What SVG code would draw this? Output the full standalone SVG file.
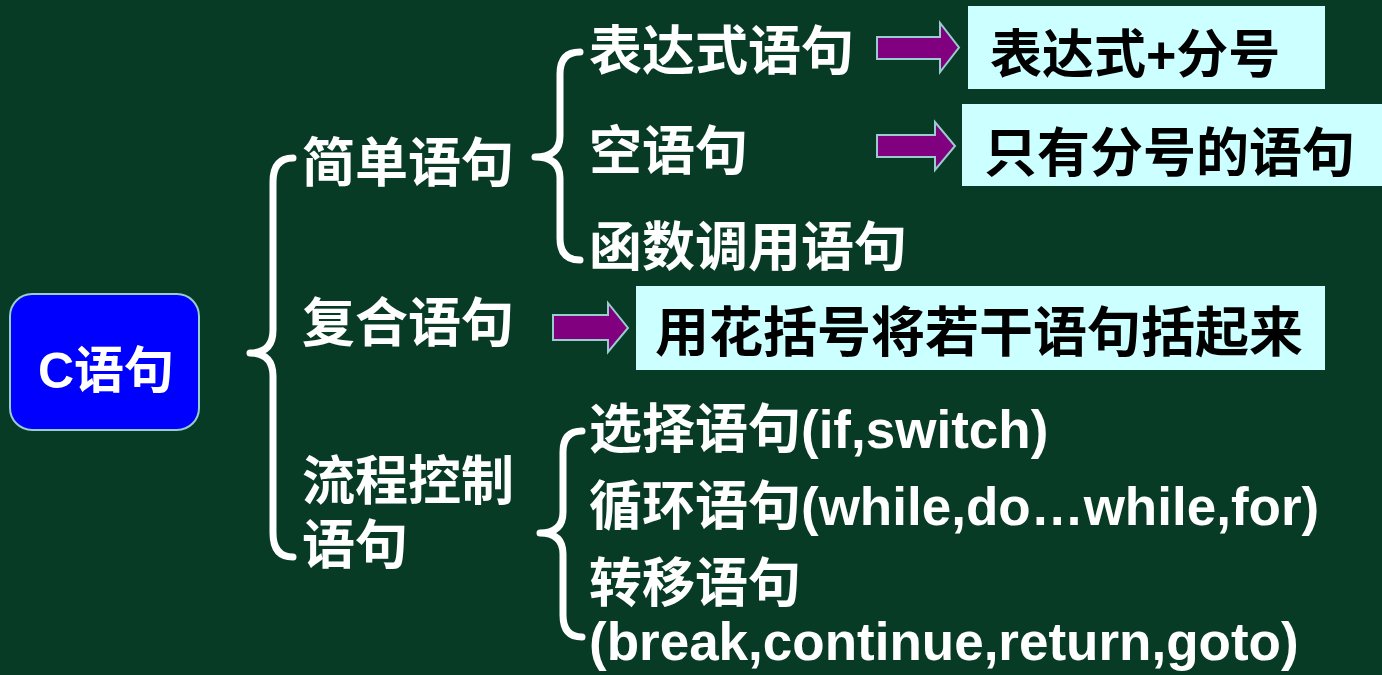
<svg xmlns="http://www.w3.org/2000/svg" width="1382" height="675" viewBox="0 0 1382 675">
<style>
.t{font-family:"Liberation Sans","Noto Sans CJK SC",sans-serif;font-weight:bold;font-size:53px;fill:#ffffff}
.b{font-family:"Liberation Sans","Noto Sans CJK SC",sans-serif;font-weight:bold;font-size:52px;fill:#000000}
.br{fill:none;stroke:#ffffff;stroke-width:7;stroke-linecap:round;stroke-linejoin:round}
.ar{fill:#800080;stroke:#99cccc;stroke-width:2}
.bx{fill:#ccffff}
</style>
<rect x="0" y="0" width="1382" height="675" fill="#073b25"/>
<g id="root">
<rect x="10" y="294" width="189" height="136" rx="22" fill="#0000ff" stroke="#99cccc" stroke-width="2"/>
<text x="106" y="388" text-anchor="middle" style="font-family:'Liberation Sans','Noto Sans CJK SC',sans-serif;font-weight:bold;font-size:50px;fill:#fff">C语句</text>
</g>
<g id="connectors">
<path class="br" d="M293,158 Q273,158 273,182 L273,330 Q273,353 250,353 Q273,353 273,376 L273,533 Q273,557 293,557"/>
<path class="br" d="M580,52 Q560,52 560,74 L560,136 Q560,157 535,157 Q560,157 560,178 L560,238 Q560,260 580,260"/>
<path class="br" d="M582,431 Q563,431 563,452 L563,512 Q563,533 540,533 Q563,533 563,554 L563,615 Q563,637 582,637"/>
<polygon class="ar" points="877,37 940,37 940,23 959,47.5 940,72 940,59 877,59"/>
<polygon class="ar" points="877,135 935,135 935,122 955,146 935,170 935,157 877,157"/>
<polygon class="ar" points="553,315 608,315 608,303 628,328 608,352 608,340 553,340"/>
</g>
<g id="simple"><text class="t" x="302" y="182">简单语句</text></g>
<g id="compound"><text class="t" x="302" y="342">复合语句</text></g>
<g id="flow"><text class="t" x="302" y="500">流程控制</text><text class="t" x="302" y="564">语句</text></g>
<g id="expr"><text class="t" x="589" y="70">表达式语句</text></g>
<g id="empty"><text class="t" x="589" y="170">空语句</text></g>
<g id="call"><text class="t" x="589" y="266">函数调用语句</text></g>
<g id="select"><text class="t" x="589" y="448">选择语句(if,switch)</text></g>
<g id="loop"><text class="t" x="589" y="525">循环语句(while,do…while,for)</text></g>
<g id="jump"><text class="t" x="589" y="602">转移语句</text><text class="t" x="589" y="660">(break,continue,return,goto)</text></g>
<g id="desc1"><rect class="bx" x="968" y="6" width="357" height="83"/><text class="b" x="990" y="73">表达式+分号</text></g>
<g id="desc2"><rect class="bx" x="962" y="104" width="420" height="82"/><text class="b" x="984" y="172" style="font-size:53px">只有分号的语句</text></g>
<g id="desc3"><rect class="bx" x="636" y="286" width="689" height="84"/><text class="b" x="655" y="352" style="font-size:54px">用花括号将若干语句括起来</text></g>
</svg>
